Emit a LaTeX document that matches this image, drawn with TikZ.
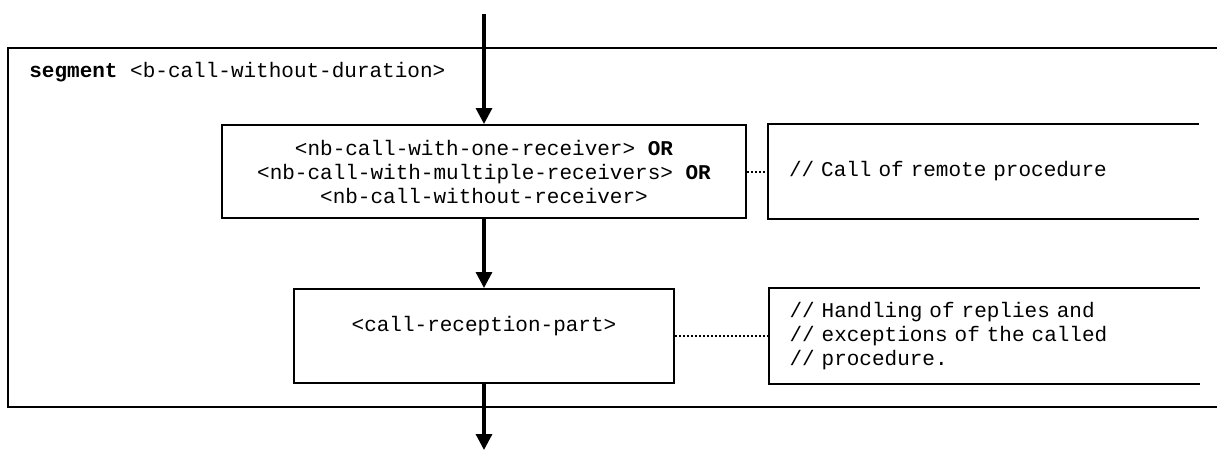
\documentclass[tikz,border=0pt]{standalone}
\usepackage{fontspec}
\setmonofont{Liberation Mono}
\usepackage{tikz}
\usetikzlibrary{positioning, calc, arrows.meta}

\begin{document}
\begin{tikzpicture}[x=0.5pt, y=-0.5pt,
    font=\ttfamily\fontsize{10.5}{12}\selectfont,
    procbox/.style={draw, line width=1pt, inner sep=0pt, align=center},
    notebox/.style={line width=1pt, minimum width=214.5pt, minimum height=46.5pt,
                    inner xsep=10pt, text width=194.5pt, align=left},
    flow/.style={line width=1.6pt, -{Triangle[width=8pt,length=8pt]}},
    notelink/.style={line width=1pt, dash pattern=on 1pt off 1pt}]

    \useasboundingbox (0,0) rectangle (1217,450);

    % Segment frame, open to the right
    \draw[line width=1pt] (1217,48) -- (8,48) -- (8,407) -- (1217,407);
    \node[anchor=west, inner sep=0pt] (seglabel) at (29,72)
        {\textbf{segment} <b-call-without-duration>};

    % Call statement
    \node[procbox, minimum width=262pt, minimum height=46.5pt] (nbcall) at (484,171.5)
        {<nb-call-with-one-receiver> \textbf{OR}\\
         <nb-call-with-multiple-receivers> \textbf{OR}\\
         <nb-call-without-receiver>};

    % Reception part
    \node[procbox, minimum width=190pt, minimum height=47pt] (recv) at (484,336) {};
    \node[inner sep=0pt] (recvtext) at ([yshift=5pt]recv.center) {<call-reception-part>};

    % Comment boxes
    \node[notebox] (callnote) at (983.5,171.5) {// Call of remote procedure};
    \node[notebox, minimum height=47pt] (recvnote) at (984,336)
        {// Handling of replies and\\
         // exceptions of the called\\
         // procedure.};
    \draw[line width=1pt] (callnote.north east) -- (callnote.north west)
                       -- (callnote.south west) -- (callnote.south east);
    \draw[line width=1pt] (recvnote.north east) -- (recvnote.north west)
                       -- (recvnote.south west) -- (recvnote.south east);

    % Flow in and out
    \coordinate (entry) at (484,14);
    \coordinate (exit) at (484,450);
    \draw[flow] (entry) -- (nbcall.north);
    \draw[flow] (nbcall.south) -- (recv.north);
    \draw[flow] (recv.south) -- (exit);

    % Comment attachments
    \draw[notelink] (nbcall.east) -- (callnote.west);
    \draw[notelink] (recv.east) -- (recvnote.west);

\end{tikzpicture}
\end{document}
